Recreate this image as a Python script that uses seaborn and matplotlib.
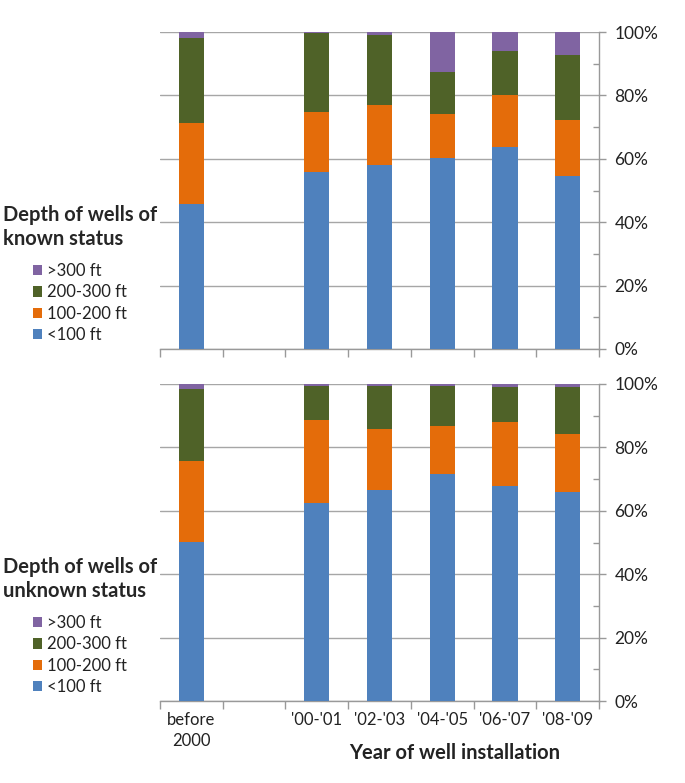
import numpy as np
import pandas as pd
import matplotlib
matplotlib.use('Agg')
import matplotlib.pyplot as plt
from matplotlib.patches import Patch
import seaborn as sns

# data (percent of wells per depth class)
periods = ['before\n2000', '', "'00-'01", "'02-'03", "'04-'05", "'06-'07", "'08-'09"]
depth_labels = ['<100 ft', '100-200 ft', '200-300 ft', '>300 ft']

known_lt100 = [45.6, 0, 55.7, 58.2, 60.1, 63.8, 54.5]
known_100_200 = [25.7, 0, 19.0, 18.7, 14.0, 16.3, 17.7]
known_200_300 = [26.8, 0, 25.0, 22.2, 13.3, 13.9, 20.5]
known_gt300 = [1.9, 0, 0.3, 0.9, 12.6, 6.0, 7.3]

unknown_lt100 = [50.3, 0, 62.4, 66.6, 71.7, 67.7, 66.0]
unknown_100_200 = [25.3, 0, 26.3, 19.2, 14.9, 20.3, 18.2]
unknown_200_300 = [22.9, 0, 10.8, 13.7, 12.7, 11.1, 14.7]
unknown_gt300 = [1.5, 0, 0.5, 0.5, 0.7, 0.9, 1.1]

colors = ['#4F81BD', '#E46C0A', '#4F6228', '#8064A2']

sns.set_theme(style='white')
plt.rcParams['font.family'] = ['Lato', 'DejaVu Sans']

fig = plt.figure(figsize=(6.85, 7.83), dpi=100)
ax1 = fig.add_axes([0.2336, 0.5543, 0.6409, 0.4048])
ax2 = fig.add_axes([0.2336, 0.1047, 0.6409, 0.4049])


def draw_panel(ax, series, title, show_labels):
    df = pd.DataFrame({'period': periods})
    for name, vals in zip(depth_labels, series):
        df[name] = vals
    cum = df[depth_labels].cumsum(axis=1)
    # draw tallest stack first, then overlay the lower segments
    for name, col in reversed(list(zip(depth_labels, colors))):
        sns.barplot(data=cum.assign(period=df['period']), x='period', y=name,
                    order=periods, color=col, saturation=1, width=0.4,
                    errorbar=None, linewidth=0, ax=ax, zorder=3)
    ax.set_xlim(-0.5, len(periods) - 0.5)
    ax.set_ylim(0, 100)
    ax.set_xlabel('')
    ax.set_ylabel('')
    ax.yaxis.tick_right()
    ax.set_yticks(np.arange(0, 101, 20))
    ax.set_yticks(np.arange(10, 100, 20), minor=True)
    ax.set_yticklabels([f'{v}%' for v in range(0, 101, 20)], fontsize=12.5, color='#222222')
    ax.tick_params(axis='y', which='major', right=True, length=5, width=1, color='#999999', pad=6,
                   direction='out')
    ax.tick_params(axis='y', which='minor', right=True, length=4, width=1, color='#999999',
                   direction='in')
    ax.grid(axis='y', which='major', color='#a6a6a6', linewidth=1, zorder=0)
    ax.set_axisbelow(True)
    ax.set_xticks(np.arange(-0.5, len(periods)), minor=True)
    ax.tick_params(axis='x', which='minor', bottom=True, length=6, width=1, color='#999999',
                   direction='out')
    ax.tick_params(axis='x', which='major', length=0, pad=8)
    if show_labels:
        ax.set_xticks(range(len(periods)))
        ax.set_xticklabels(periods, fontsize=12, color='#222222', linespacing=1.4)
    else:
        ax.set_xticklabels([])
    for side in ['top', 'left']:
        ax.spines[side].set_visible(False)
    for side in ['bottom', 'right']:
        ax.spines[side].set_color('#999999')
        ax.spines[side].set_linewidth(1)

    handles = [Patch(facecolor=c, edgecolor='none') for c in reversed(colors)]
    leg = ax.legend(handles, list(reversed(depth_labels)), title=title,
                    loc='upper center', bbox_to_anchor=(-0.182, 0.48), frameon=False,
                    fontsize=12, handlelength=0.55, handleheight=0.55, handletextpad=0.3,
                    labelspacing=0.32, borderpad=0,
                    title_fontproperties={'weight': 'bold', 'size': 14.5})
    leg._legend_box.sep = 10
    leg.get_title().set_linespacing(1.25)
    for t in leg.get_texts():
        t.set_color('#222222')


draw_panel(ax1, [known_lt100, known_100_200, known_200_300, known_gt300],
           'Depth of wells of\nknown status', False)
draw_panel(ax2, [unknown_lt100, unknown_100_200, unknown_200_300, unknown_gt300],
           'Depth of wells of\nunknown status', True)

fig.text(0.664, 0.038, 'Year of well installation', ha='center', va='center',
         fontsize=14.5, fontweight='bold', color='#222222')

fig.savefig('out.png', dpi=100, facecolor='white')
